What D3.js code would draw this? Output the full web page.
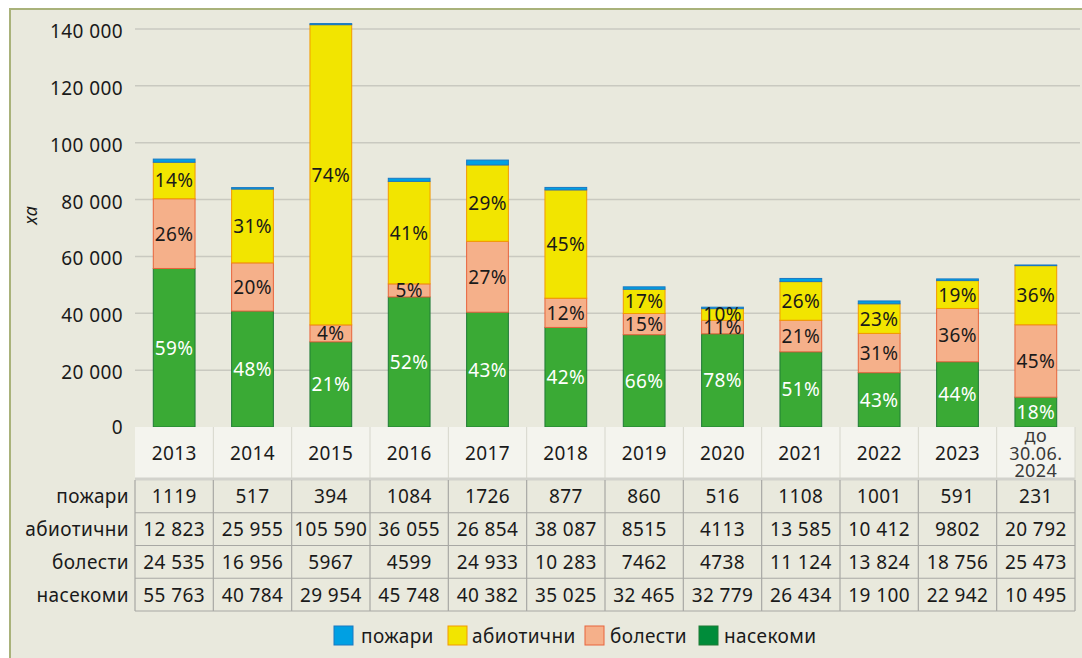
<!DOCTYPE html>
<html lang="bg">
<head>
<meta charset="UTF-8">
<title>Засегнати площи</title>
<script src="https://d3js.org/d3.v7.min.js"></script>
<style>
    body { margin: 0; background: #fff; }
    svg text { font-family: "Noto Sans", "Open Sans", sans-serif; fill: #1a1a1a; font-size: 19px; letter-spacing: 0.4px; }
</style>
</head>
<body>
<script>
    const width = 1082;
    const height = 658;

    // data
    const years = ["2013", "2014", "2015", "2016", "2017", "2018", "2019", "2020", "2021", "2022", "2023", "до|30.06.|2024"];
    const fires   = [1119, 517, 394, 1084, 1726, 877, 860, 516, 1108, 1001, 591, 231];
    const abiotic = [12823, 25955, 105590, 36055, 26854, 38087, 8515, 4113, 13585, 10412, 9802, 20792];
    const disease = [24535, 16956, 5967, 4599, 24933, 10283, 7462, 4738, 11124, 13824, 18756, 25473];
    const insects = [55763, 40784, 29954, 45748, 40382, 35025, 32465, 32779, 26434, 19100, 22942, 10495];
    const pctAbiotic = ["14%", "31%", "74%", "41%", "29%", "45%", "17%", "10%", "26%", "23%", "19%", "36%"];
    const pctDisease = ["26%", "20%", "4%", "5%", "27%", "12%", "15%", "11%", "21%", "31%", "36%", "45%"];
    const pctInsects = ["59%", "48%", "21%", "52%", "43%", "42%", "66%", "78%", "51%", "43%", "44%", "18%"];
    const yTicks = [0, 20000, 40000, 60000, 80000, 100000, 120000, 140000];

    const series = [
        {key: "насекоми",  values: insects, pct: pctInsects, fill: "#3aaa35", stroke: "#1f7a35", legend: "#008c3a", text: "#fff"},
        {key: "болести",   values: disease, pct: pctDisease, fill: "#f5b08a", stroke: "#e8643c", legend: "#f5b08a", text: "#1a1a1a"},
        {key: "абиотични", values: abiotic, pct: pctAbiotic, fill: "#f2e500", stroke: "#f39a00", legend: "#f2e500", text: "#1a1a1a"},
        {key: "пожари",    values: fires,   pct: null,       fill: "#00a0e3", stroke: "#1a78c2", legend: "#00a0e3", text: "#1a1a1a"}
    ];
    const tableRows = [series[3], series[2], series[1], series[0]];
    const legendOrder = [series[3], series[2], series[1], series[0]];

    const fmt = v => v >= 10000 ? d3.format(",")(v).replace(/,/g, " ") : String(v);

    const svg = d3.select("body").append("svg")
        .attr("width", width).attr("height", height);

    // frame
    svg.append("rect").attr("x", 10).attr("y", 9).attr("width", width + 10).attr("height", height)
        .attr("fill", "#e9e9dd").attr("stroke", "#a9b27a").attr("stroke-width", 2);

    const plotL = 135, plotR = 1075, plotT = 29, plotB = 427;

    const x = d3.scaleBand().domain(years).range([plotL, plotR]);
    const y = d3.scaleLinear().domain([0, 140000]).range([plotB, plotT]);

    // gridlines
    svg.append("g").selectAll("line").data(yTicks.filter(d => d > 0)).join("line")
        .attr("x1", plotL).attr("x2", 1080)
        .attr("y1", d => y(d)).attr("y2", d => y(d))
        .attr("stroke", "#c9c9c0").attr("stroke-width", 1.5);

    svg.append("g").selectAll("text").data(yTicks).join("text")
        .attr("x", 123).attr("y", d => y(d) + (d === 0 ? 0 : 2))
        .attr("text-anchor", "end").attr("dominant-baseline", "central")
        .text(d => d3.format(",")(d).replace(/,/g, " "));

    svg.append("text")
        .attr("transform", "translate(37,215) rotate(-90)")
        .attr("text-anchor", "middle")
        .style("font-size", "18px").style("font-style", "italic")
        .text("ха");

    // stacked bars
    const stack = d3.stack().keys(d3.range(series.length))
        .value((d, k) => series[k].values[d]);
    const stacked = stack(d3.range(years.length));
    const barW = x.bandwidth() * 0.533;

    const layers = svg.append("g").selectAll("g").data(stacked).join("g")
        .attr("fill", (d, i) => series[i].fill)
        .attr("stroke", (d, i) => series[i].stroke);

    layers.selectAll("rect").data(d => d).join("rect")
        .attr("x", d => x(years[d.data]) + (x.bandwidth() - barW) / 2)
        .attr("width", barW)
        .attr("y", d => y(d[1]))
        .attr("height", d => y(d[0]) - y(d[1]))
        .attr("stroke-width", 1);

    stacked.forEach((layer, i) => {
        const s = series[i];
        if (!s.pct) return;
        svg.append("g").selectAll("text").data(layer).join("text")
            .attr("x", d => x(years[d.data]) + x.bandwidth() / 2)
            .attr("y", d => (y(d[0]) + y(d[1])) / 2)
            .attr("text-anchor", "middle").attr("dominant-baseline", "central")
            .style("fill", s.text)
            .text(d => s.pct[d.data]);
    });

    // data table
    const headH = 52, rowH = 32.75;
    const tbl = svg.append("g");
    tbl.append("rect").attr("x", plotL).attr("y", plotB)
        .attr("width", plotR - plotL).attr("height", headH)
        .attr("fill", "#f4f4ee");
    tbl.selectAll("line.hv").data(years.slice(1)).join("line")
        .attr("x1", d => x(d)).attr("x2", d => x(d))
        .attr("y1", plotB).attr("y2", plotB + headH)
        .attr("stroke", "#d6d6cc");
    years.forEach(yr => {
        const lines = yr.split("|");
        const cx = x(yr) + x.bandwidth() / 2;
        const t = tbl.append("text").attr("text-anchor", "middle")
            .style("fill", lines.length > 1 ? "#3a3a3a" : "#1a1a1a");
        if (lines.length === 1) {
            t.attr("x", cx).attr("y", plotB + headH / 2).attr("dominant-baseline", "central").text(yr);
        } else {
            t.style("font-size", "18px");
            lines.forEach((l, j) => {
                t.append("tspan").attr("x", cx)
                    .attr("y", plotB + 8 + j * 17.5)
                    .attr("dominant-baseline", "central").text(l);
            });
        }
    });
    tbl.append("line").attr("x1", plotL).attr("x2", plotR)
        .attr("y1", plotB + headH).attr("y2", plotB + headH)
        .attr("stroke", "#d2d2cc").attr("stroke-width", 3);

    const rowTop = plotB + headH + 1;
    tableRows.forEach((s, r) => {
        const yy = rowTop + r * rowH;
        tbl.append("text").attr("x", 129).attr("y", yy + rowH / 2)
            .attr("text-anchor", "end").attr("dominant-baseline", "central")
            .text(s.key);
        tbl.selectAll(null).data(s.values).join("text")
            .attr("x", (d, i) => x(years[i]) + x.bandwidth() / 2)
            .attr("y", yy + rowH / 2)
            .attr("text-anchor", "middle").attr("dominant-baseline", "central")
            .text(d => fmt(d));
    });
    // grid of table body
    const gridColor = "#a8a8a4";
    d3.range(1, tableRows.length + 1).forEach(r => {
        tbl.append("line").attr("x1", plotL).attr("x2", plotR)
            .attr("y1", rowTop + r * rowH).attr("y2", rowTop + r * rowH)
            .attr("stroke", gridColor).attr("stroke-width", 1.2);
    });
    d3.range(years.length + 1).forEach(c => {
        const xx = c === years.length ? plotR : x(years[c]);
        tbl.append("line").attr("x1", xx).attr("x2", xx)
            .attr("y1", rowTop).attr("y2", rowTop + rowH * tableRows.length)
            .attr("stroke", gridColor).attr("stroke-width", 1.2);
    });
    tbl.append("line").attr("x1", plotR).attr("x2", plotR)
        .attr("y1", plotB).attr("y2", rowTop)
        .attr("stroke", "#d6d6cc");

    // legend
    const legendX = [334, 448, 585, 699];
    const legendTextX = [361, 472, 610, 724];
    const lg = svg.append("g").selectAll("g").data(legendOrder).join("g")
        .attr("transform", (d, i) => `translate(${legendX[i]},626)`);
    lg.append("rect").attr("width", 19).attr("height", 19)
        .attr("fill", d => d.legend).attr("stroke", d => d.stroke).attr("stroke-width", 1);
    lg.append("text").attr("x", (d, i) => legendTextX[i] - legendX[i]).attr("y", 10)
        .attr("dominant-baseline", "central")
        .text(d => d.key);
</script>
</body>
</html>
